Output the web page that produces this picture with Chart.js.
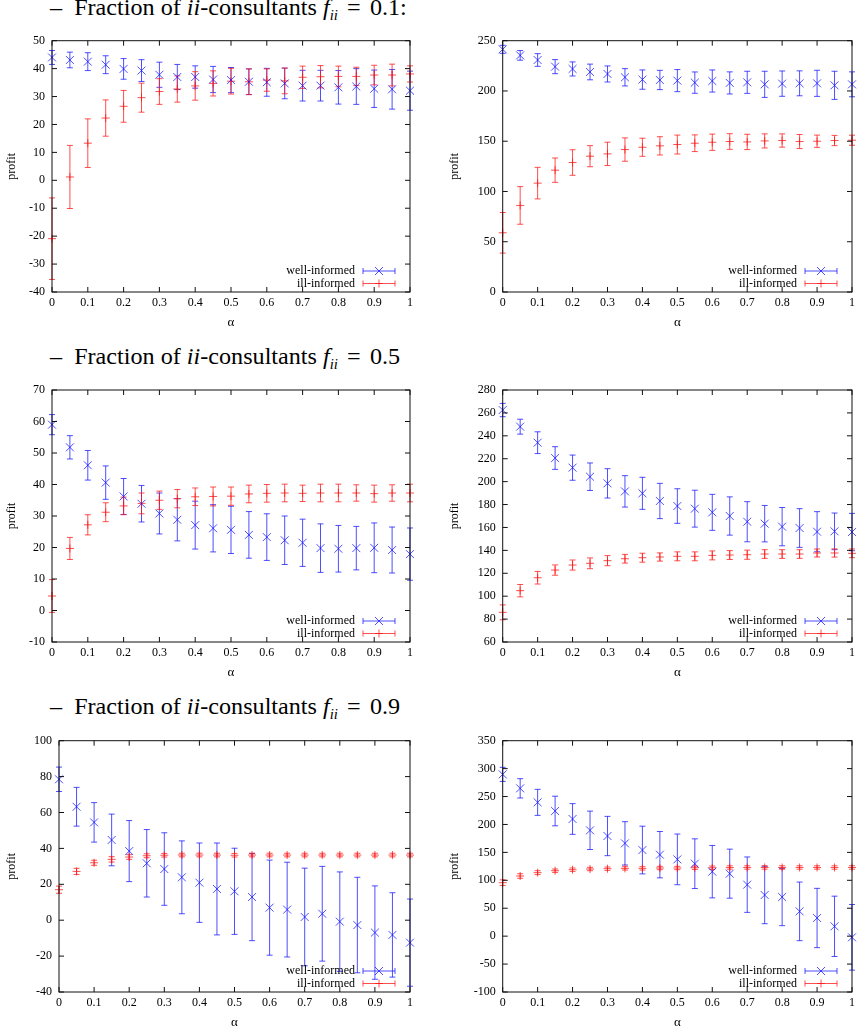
<!DOCTYPE html>
<html>
<head>
<meta charset="utf-8">
<script src="https://cdn.jsdelivr.net/npm/chart.js@4.4.0/dist/chart.umd.min.js"></script>
<style>
body { margin: 0; background: #fff; width: 859px; height: 1033px; position: relative; overflow: hidden; }
.heading { position: absolute; left: 50px; font-family: "Liberation Serif", serif; font-size: 23px; line-height: 22px; color: #000; white-space: nowrap; transform: scaleX(1.05); transform-origin: 0 0; }
.heading sub { font-size: 14px; vertical-align: -5px; line-height: 0; }
.heading .eq { margin: 0 3px; }
canvas { position: absolute; }
</style>
</head>
<body>

<div class="heading" style="top:-3px">–&nbsp; Fraction of <i>ii</i>-consultants <i>f</i><sub><i>ii</i></sub> <span class="eq">=</span> 0.1:</div>
<div class="heading" style="top:346px">–&nbsp; Fraction of <i>ii</i>-consultants <i>f</i><sub><i>ii</i></sub> <span class="eq">=</span> 0.5</div>
<div class="heading" style="top:696px">–&nbsp; Fraction of <i>ii</i>-consultants <i>f</i><sub><i>ii</i></sub> <span class="eq">=</span> 0.9</div>

<canvas id="chart1" width="430" height="307" style="left:0;top:25px"></canvas>
<canvas id="chart2" width="429" height="307" style="left:430px;top:25px"></canvas>
<canvas id="chart3" width="430" height="308" style="left:0;top:374px"></canvas>
<canvas id="chart4" width="429" height="308" style="left:430px;top:374px"></canvas>
<canvas id="chart5" width="430" height="307" style="left:0;top:725px"></canvas>
<canvas id="chart6" width="429" height="307" style="left:430px;top:725px"></canvas>

<script>
// data

const alpha = [0, 0.05, 0.1, 0.15, 0.2, 0.25, 0.3, 0.35, 0.4, 0.45, 0.5, 0.55, 0.6, 0.65, 0.7, 0.75, 0.8, 0.85, 0.9, 0.95, 1];

// f_ii = 0.1
const well1 = [44.0, 43.1, 42.5, 41.4, 39.9, 39.3, 37.8, 37.0, 37.0, 36.1, 35.9, 35.3, 35.1, 34.7, 33.9, 33.9, 33.3, 33.6, 32.8, 32.6, 32.1];
const wellErr1 = [2.5, 2.8, 3.2, 3.2, 3.7, 3.9, 4.5, 4.5, 4.0, 4.7, 4.5, 4.6, 5.0, 5.5, 5.5, 5.5, 6.0, 6.4, 6.7, 7.1, 7.0];
const ill1 = [-20.9, 1.2, 13.3, 22.3, 26.5, 29.6, 31.8, 32.7, 33.8, 34.7, 35.5, 35.3, 35.9, 35.6, 36.9, 37.1, 37.2, 37.2, 37.7, 37.7, 38.1];
const illErr1 = [14.6, 11.3, 8.7, 6.5, 5.7, 5.2, 4.6, 4.7, 5.1, 4.5, 4.6, 4.6, 4.0, 4.6, 4.0, 4.0, 3.7, 3.3, 3.5, 3.9, 2.9];

const well2 = [241.4, 235.4, 230.8, 224.2, 221.9, 218.9, 216.9, 213.6, 211.3, 210.9, 210.3, 208.3, 209.9, 208.0, 208.6, 206.6, 207.3, 207.6, 207.6, 205.6, 206.6];
const wellErr2 = [4.0, 4.8, 6.3, 7.0, 7.0, 7.8, 8.0, 8.6, 9.6, 9.6, 11.0, 10.6, 11.0, 11.0, 11.0, 13.0, 12.6, 12.4, 13.0, 14.0, 12.4];
const ill2 = [58.9, 86.1, 108.3, 121.2, 128.8, 135.1, 137.4, 141.7, 144.0, 145.4, 146.7, 148.0, 149.0, 149.7, 149.3, 150.3, 150.7, 149.7, 150.0, 150.7, 151.0];
const illErr2 = [20.2, 18.7, 15.7, 12.1, 12.7, 10.5, 11.6, 11.6, 9.0, 9.1, 9.4, 8.3, 8.1, 7.8, 7.6, 7.0, 6.6, 7.0, 6.1, 5.1, 5.0];

// f_ii = 0.5
const well3 = [59.0, 51.8, 46.1, 40.6, 36.2, 33.9, 30.8, 28.8, 27.1, 26.1, 25.6, 24.0, 23.3, 22.3, 21.5, 19.8, 19.6, 19.8, 19.9, 19.2, 17.9];
const wellErr3 = [3.2, 3.7, 4.7, 5.3, 5.7, 5.8, 6.5, 6.7, 7.6, 7.5, 7.5, 7.4, 7.4, 7.7, 7.5, 7.7, 7.4, 6.9, 7.9, 7.3, 8.3];
const ill3 = [4.6, 19.7, 27.2, 31.2, 33.2, 34.0, 35.0, 35.5, 36.1, 36.2, 36.3, 37.0, 37.2, 37.3, 37.2, 37.3, 37.3, 37.3, 37.1, 37.3, 37.3];
const illErr3 = [5.2, 3.5, 3.2, 3.0, 2.8, 3.3, 2.9, 2.9, 2.8, 3.0, 2.9, 2.8, 2.8, 2.8, 2.6, 2.8, 2.8, 2.6, 2.7, 2.6, 2.8];

const well4 = [262.5, 248.0, 234.0, 220.6, 212.2, 204.3, 198.5, 191.5, 189.8, 183.1, 178.7, 176.4, 173.2, 170.0, 165.0, 163.3, 160.7, 159.5, 156.3, 156.6, 156.0];
const wellErr4 = [5.8, 6.5, 9.5, 9.9, 11.0, 12.0, 12.8, 13.7, 14.0, 15.4, 15.1, 16.1, 15.7, 16.7, 17.5, 15.9, 16.7, 16.9, 17.5, 16.0, 16.3];
const ill4 = [85.9, 104.8, 116.1, 122.8, 127.2, 128.7, 131.0, 132.7, 133.6, 134.2, 134.8, 134.8, 135.6, 135.9, 136.2, 136.8, 136.8, 136.8, 137.7, 137.7, 137.4];
const illErr4 = [6.5, 5.4, 5.5, 4.5, 4.4, 4.7, 4.4, 3.8, 3.9, 3.6, 3.9, 3.9, 3.9, 3.9, 4.0, 3.8, 3.8, 3.8, 3.5, 3.6, 3.8];

// f_ii = 0.9
const well5 = [78.5, 63.2, 54.5, 44.7, 38.5, 31.7, 28.5, 23.9, 20.9, 17.4, 16.1, 12.9, 7.0, 5.9, 1.8, 3.6, -0.8, -2.7, -6.9, -8.2, -12.5];
const wellErr5 = [6.8, 10.8, 11.0, 14.4, 17.0, 18.8, 20.2, 20.3, 22.1, 25.6, 24.0, 24.3, 26.5, 26.4, 27.2, 26.4, 27.7, 26.6, 26.0, 23.5, 24.3];
const ill5 = [17.0, 27.2, 32.0, 33.9, 35.2, 35.9, 36.2, 36.3, 36.3, 36.3, 36.2, 36.3, 36.3, 36.3, 36.3, 36.3, 36.3, 36.3, 36.3, 36.3, 36.3];
const illErr5 = [2.0, 1.7, 1.4, 1.5, 1.3, 1.1, 1.0, 1.0, 1.0, 1.0, 1.0, 1.0, 1.0, 1.0, 1.0, 1.0, 1.0, 1.0, 1.0, 1.0, 1.0];

const well6 = [289.7, 264.7, 239.6, 224.1, 209.8, 189.5, 179.3, 166.2, 154.2, 145.9, 137.5, 129.8, 115.5, 111.9, 92.2, 73.7, 70.1, 44.4, 32.5, 17.6, -2.1];
const wellErr6 = [12.6, 17.3, 23.3, 26.5, 27.5, 34.4, 35.2, 38.8, 42.7, 41.5, 45.4, 44.5, 46.9, 43.9, 49.6, 51.4, 51.3, 52.5, 53.1, 54.0, 58.8];
const ill6 = [95.8, 107.7, 113.7, 117.2, 119.0, 120.2, 120.8, 121.4, 121.4, 122.0, 122.0, 122.5, 122.5, 123.0, 123.0, 123.0, 123.0, 123.0, 123.0, 123.0, 123.0];
const illErr6 = [5.0, 4.0, 3.5, 3.0, 3.0, 3.0, 3.0, 3.0, 3.0, 3.0, 3.0, 3.0, 3.0, 3.0, 3.0, 3.0, 3.0, 3.0, 3.0, 3.0, 3.0];

// y axis: min, max, step
const yRange1 = [-40, 50, 10];
const yRange2 = [0, 250, 50];
const yRange3 = [-10, 70, 10];
const yRange4 = [60, 280, 20];
const yRange5 = [-40, 100, 20];
const yRange6 = [-100, 350, 50];

const seriesNames = ['well-informed', 'ill-informed'];

// styles

const blue = 'rgba(20, 20, 255, 0.75)';
const red = 'rgba(255, 20, 20, 0.75)';
const serif = '"Liberation Serif", "DejaVu Serif", serif';

function points(vals, errs) {
    return alpha.map((a, i) => ({ x: a, y: vals[i], err: errs[i] }));
}

function drawMarker(ctx, style, x, y) {
    ctx.beginPath();
    if (style === 'crossRot') {
        ctx.moveTo(x - 4, y - 4); ctx.lineTo(x + 4, y + 4);
        ctx.moveTo(x - 4, y + 4); ctx.lineTo(x + 4, y - 4);
    } else {
        ctx.moveTo(x - 4, y); ctx.lineTo(x + 4, y);
        ctx.moveTo(x, y - 4); ctx.lineTo(x, y + 4);
    }
    ctx.stroke();
}

// error bars, drawn through the chart's own scales
const errorBars = {
    id: 'errorBars',
    beforeDatasetsDraw(chart) {
        const { ctx, scales: { x, y } } = chart;
        ctx.save();
        ctx.lineWidth = 1;
        chart.data.datasets.forEach(ds => {
            ctx.strokeStyle = ds.borderColor;
            ds.data.forEach(p => {
                const px = x.getPixelForValue(p.x);
                const hi = y.getPixelForValue(p.y + p.err);
                const lo = y.getPixelForValue(p.y - p.err);
                ctx.beginPath();
                ctx.moveTo(px, hi); ctx.lineTo(px, lo);
                ctx.moveTo(px - 3, hi); ctx.lineTo(px + 3, hi);
                ctx.moveTo(px - 3, lo); ctx.lineTo(px + 3, lo);
                ctx.stroke();
            });
        });
        ctx.restore();
    }
};

// gnuplot style box, inward ticks and key
const frame = {
    id: 'frame',
    afterDraw(chart) {
        const { ctx, chartArea: a, scales: { x, y } } = chart;
        ctx.save();
        ctx.strokeStyle = '#111';
        ctx.lineWidth = 1;
        ctx.strokeRect(a.left, a.top, a.width, a.height);
        ctx.beginPath();
        x.ticks.forEach(t => {
            const px = x.getPixelForValue(t.value);
            ctx.moveTo(px, a.bottom); ctx.lineTo(px, a.bottom - 5);
            ctx.moveTo(px, a.top); ctx.lineTo(px, a.top + 5);
        });
        y.ticks.forEach(t => {
            const py = y.getPixelForValue(t.value);
            ctx.moveTo(a.left, py); ctx.lineTo(a.left + 5, py);
            ctx.moveTo(a.right, py); ctx.lineTo(a.right - 5, py);
        });
        ctx.stroke();

        ctx.font = '12px ' + serif;
        ctx.textAlign = 'right';
        ctx.textBaseline = 'middle';
        chart.data.datasets.forEach((ds, i) => {
            const ly = a.bottom - 21 + i * 12.5;
            const x1 = a.right - 47, x2 = a.right - 15;
            ctx.fillStyle = '#000';
            ctx.fillText(ds.label, a.right - 55, ly);
            ctx.strokeStyle = ds.borderColor;
            ctx.beginPath();
            ctx.moveTo(x1, ly); ctx.lineTo(x2, ly);
            ctx.moveTo(x1, ly - 3); ctx.lineTo(x1, ly + 3);
            ctx.moveTo(x2, ly - 3); ctx.lineTo(x2, ly + 3);
            ctx.stroke();
            drawMarker(ctx, ds.pointStyle, (x1 + x2) / 2, ly);
        });
        ctx.restore();
    }
};

function makePanel(id, yRange, well, wellErr, ill, illErr, yWidth, padTop, padRight, titlePad) {
    const canvas = document.getElementById(id);
    return new Chart(canvas, {
        type: 'scatter',
        data: {
            datasets: [{
                label: seriesNames[0],
                data: points(well, wellErr),
                pointStyle: 'crossRot',
                pointRadius: 5.6,
                pointBorderWidth: 1,
                borderColor: blue,
                backgroundColor: blue,
                clip: false
            }, {
                label: seriesNames[1],
                data: points(ill, illErr),
                pointStyle: 'cross',
                pointRadius: 4,
                pointBorderWidth: 1,
                borderColor: red,
                backgroundColor: red,
                clip: false
            }]
        },
        options: {
            responsive: false,
            animation: false,
            devicePixelRatio: 1,
            events: [],
            layout: { padding: { left: 0, top: padTop, right: padRight, bottom: 0 } },
            plugins: {
                legend: { display: false },
                tooltip: { enabled: false }
            },
            scales: {
                x: {
                    type: 'linear',
                    min: 0,
                    max: 1,
                    grid: { display: false, drawTicks: false },
                    border: { display: false },
                    ticks: {
                        stepSize: 0.1,
                        padding: 4,
                        maxRotation: 0,
                        color: '#000',
                        font: { family: serif, size: 12 },
                        callback: v => String(+v.toFixed(1))
                    },
                    title: {
                        display: true,
                        text: 'α',
                        color: '#000',
                        font: { family: serif, size: 13 },
                        padding: { top: 0, bottom: 2 }
                    },
                    afterFit: s => { s.height = 40; }
                },
                y: {
                    min: yRange[0],
                    max: yRange[1],
                    grid: { display: false, drawTicks: false },
                    border: { display: false },
                    ticks: {
                        stepSize: yRange[2],
                        padding: 7,
                        color: '#000',
                        font: { family: serif, size: 12 }
                    },
                    title: {
                        display: true,
                        text: 'profit',
                        color: '#000',
                        font: { family: serif, size: 12 },
                        padding: { top: titlePad, bottom: 0 }
                    },
                    afterFit: s => { s.width = yWidth; }
                }
            }
        },
        plugins: [errorBars, frame]
    });
}

makePanel('chart1', yRange1, well1, wellErr1, ill1, illErr1, 52, 15.7, 20, 5);
makePanel('chart2', yRange2, well2, wellErr2, ill2, illErr2, 72.7, 15.7, 6, 18);
makePanel('chart3', yRange3, well3, wellErr3, ill3, illErr3, 52, 16, 20, 5);
makePanel('chart4', yRange4, well4, wellErr4, ill4, illErr4, 72.7, 16, 6, 18);
makePanel('chart5', yRange5, well5, wellErr5, ill5, illErr5, 59, 15.7, 20, 5);
makePanel('chart6', yRange6, well6, wellErr6, ill6, illErr6, 72.7, 15.7, 6, 18);
</script>
</body>
</html>
